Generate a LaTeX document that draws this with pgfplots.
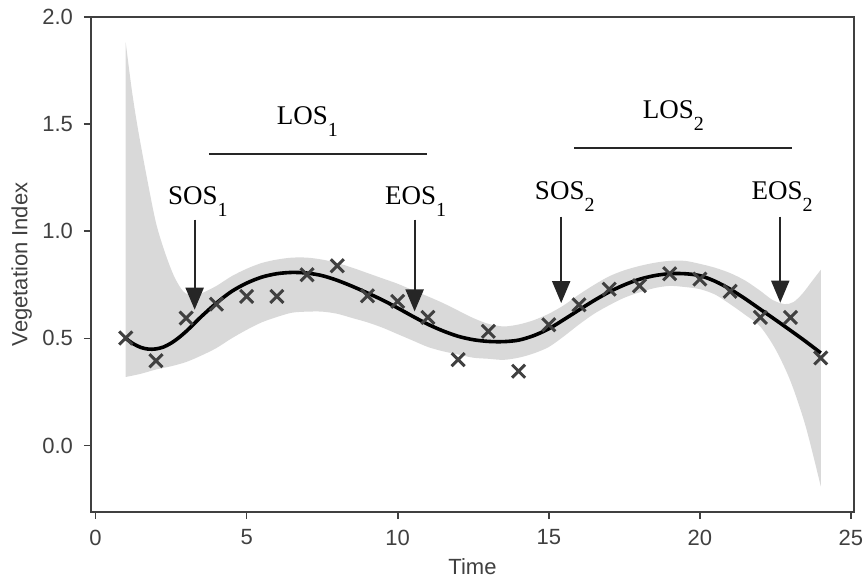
\documentclass[border=0pt]{standalone}
\usepackage{fontspec}
\setmainfont{Liberation Sans}
\newfontfamily\serif{Liberation Serif}
\usepackage{pgfplots}
\pgfplotsset{compat=1.18}
\usepgfplotslibrary{fillbetween}
\usetikzlibrary{arrows.meta}
\definecolor{band}{HTML}{D9D9D9}
\definecolor{axc}{HTML}{404040}
\definecolor{mk}{HTML}{404040}
\newcommand{\lab}[2]{{\serif\fontsize{13.5}{14}\selectfont #1\raisebox{-0.42em}{\fontsize{10}{10}\selectfont #2}}}
\begin{document}
\begin{tikzpicture}
\begin{axis}[name=main, scale only axis, width=381.5pt, height=247.5pt,
 xmin=-0.15, xmax=25.1, ymin=-0.31, ymax=2.0,
 xtick={0,5,10,15,20,25}, ytick={0,0.5,1,1.5,2},
 /pgf/number format/assume math mode=true,
 tick align=outside, tick pos=left, major tick length=3.5pt,
 axis line style={axc, line width=0.8pt},
 tick style={axc, line width=0.8pt},
 tick label style={font=\fontsize{11}{13}\selectfont, text=axc},
 xticklabel style={yshift=-1.8pt},
 yticklabel style={xshift=-2pt, /pgf/number format/fixed, /pgf/number format/fixed zerofill, /pgf/number format/precision=1},
 xlabel={Time}, ylabel={Vegetation Index},
 every axis x label/.style={at={(axis description cs:0.5,-0.1253)}, anchor=base, font=\fontsize{11}{13}\selectfont, text=axc},
 every axis y label/.style={at={(axis description cs:-0.0908,0.5)}, rotate=90, anchor=center, font=\fontsize{11}{13}\selectfont, text=axc},
 clip=false,
]
\coordinate (bl) at (rel axis cs:0,0);
\coordinate (tr) at (rel axis cs:1,1);
\addplot[name path=up, draw=none, smooth, tension=0.5] coordinates {
(1,1.88) (1.2,1.66) (1.4,1.48) (1.7,1.25) (2.0,1.04) (2.3,0.90) (2.6,0.79) (2.9,0.72) (3.2,0.70) (3.5,0.71)
(4,0.745) (4.5,0.79) (5,0.825) (5.5,0.852) (6,0.868) (6.5,0.877) (7,0.877) (7.5,0.868) (8,0.852) (8.5,0.830)
(9,0.805) (9.5,0.78) (10,0.755) (10.5,0.725) (11,0.696) (11.5,0.665) (12,0.63) (12.5,0.595) (13,0.568) (13.5,0.556)
(14,0.565) (14.5,0.585) (15,0.615) (15.5,0.655) (16,0.705) (16.5,0.75) (17,0.79) (17.5,0.818) (18,0.838) (18.5,0.853)
(19,0.862) (19.5,0.862) (20,0.848) (20.5,0.83) (21,0.805) (21.5,0.77) (22,0.722) (22.4,0.68) (22.8,0.66) (23.1,0.67)
(23.4,0.71) (23.7,0.765) (24,0.82)};
\addplot[name path=lo, draw=none, smooth, tension=0.5] coordinates {
(1,0.32) (1.5,0.335) (2,0.355) (2.5,0.37) (3,0.39) (3.5,0.42) (4,0.455) (4.5,0.50) (5,0.54) (5.5,0.575)
(6,0.60) (6.5,0.62) (7,0.625) (7.5,0.625) (8,0.615) (8.5,0.595) (9,0.575) (9.5,0.55) (10,0.52) (10.5,0.49)
(11,0.46) (11.5,0.44) (12,0.425) (12.5,0.41) (13,0.405) (13.5,0.40) (14,0.41) (14.5,0.43) (15,0.46) (15.5,0.51)
(16,0.565) (16.5,0.615) (17,0.655) (17.5,0.69) (18,0.715) (18.5,0.735) (19,0.745) (19.5,0.74) (20,0.73) (20.5,0.705)
(21,0.66) (21.5,0.61) (22,0.555) (22.5,0.45) (23,0.30) (23.5,0.09) (24,-0.19)};
\addplot[band, draw=none] fill between[of=up and lo];
\addplot[only marks, mark=x, mark size=4.6pt, mk, mark options={line width=1.5pt}] coordinates {
(1,0.502) (2,0.396) (3,0.595) (4,0.660) (5,0.696) (6,0.696) (7,0.797) (8,0.839) (9,0.699) (10,0.673)
(11,0.598) (12,0.401) (13,0.533) (14,0.347) (15,0.564) (16,0.657) (17,0.730) (18,0.746) (19,0.802) (20,0.777)
(21,0.720) (22,0.598) (23,0.598) (24,0.409)};
\addplot[black, line width=1.8pt, smooth] coordinates {
(1,0.500) (1.25,0.475) (1.5,0.458) (1.75,0.450) (2,0.451) (2.25,0.460) (2.5,0.478) (2.75,0.503) (3,0.533) (3.25,0.567)
(3.5,0.602) (4,0.665) (4.5,0.719) (5,0.758) (5.5,0.786)
(6,0.802) (6.5,0.808) (7,0.805) (7.5,0.793) (8,0.771) (8.5,0.743) (9,0.712) (9.5,0.679) (10,0.642) (10.5,0.603)
(11,0.566) (11.5,0.535) (12,0.510) (12.5,0.494) (13,0.486) (13.5,0.485) (14,0.492) (14.5,0.513) (15,0.545) (15.5,0.588)
(16,0.633) (16.5,0.677) (17,0.717) (17.5,0.750) (18,0.776) (18.5,0.793) (19,0.802) (19.5,0.802) (20,0.793) (20.5,0.767)
(21,0.730) (21.5,0.685) (22,0.636) (22.5,0.587) (23,0.537) (23.5,0.486) (24,0.432)};
% annotations
\draw[black!85, line width=1pt] (axis cs:3.75,1.361) -- (axis cs:10.96,1.361);
\draw[black!85, line width=1pt] (axis cs:15.85,1.39) -- (axis cs:23.05,1.39);
\draw[black!85, line width=1pt, -{Triangle[width=9pt,length=11pt]}] (axis cs:3.28,1.054) -- (axis cs:3.28,0.634);
\draw[black!85, line width=1pt, -{Triangle[width=9pt,length=11pt]}] (axis cs:10.56,1.054) -- (axis cs:10.56,0.626);
\draw[black!85, line width=1pt, -{Triangle[width=9pt,length=11pt]}] (axis cs:15.41,1.068) -- (axis cs:15.41,0.665);
\draw[black!85, line width=1pt, -{Triangle[width=9pt,length=11pt]}] (axis cs:22.66,1.068) -- (axis cs:22.66,0.667);
\node[anchor=base west, inner sep=0pt] at (axis cs:2.39,1.1235) {\lab{SOS}{1}};
\node[anchor=base west, inner sep=0pt] at (axis cs:9.57,1.1235) {\lab{EOS}{1}};
\node[anchor=base west, inner sep=0pt] at (axis cs:14.53,1.147) {\lab{SOS}{2}};
\node[anchor=base west, inner sep=0pt] at (axis cs:21.70,1.147) {\lab{EOS}{2}};
\node[anchor=base west, inner sep=0pt] at (axis cs:5.99,1.497) {\lab{LOS}{1}};
\node[anchor=base west, inner sep=0pt] at (axis cs:18.10,1.524) {\lab{LOS}{2}};
\end{axis}
\pgfresetboundingbox
\path[use as bounding box] ([shift={(-45.5pt,-33.5pt)}]bl) rectangle ([shift={(5pt,8.5pt)}]tr);
\end{tikzpicture}
\end{document}
